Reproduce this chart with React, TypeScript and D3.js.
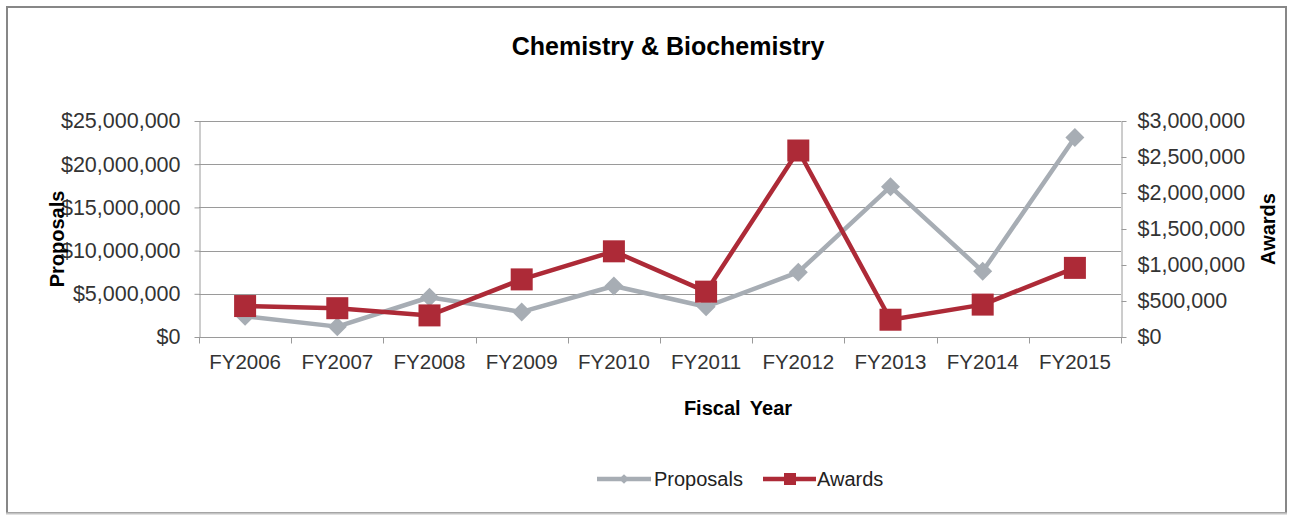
import React, { useRef, useEffect } from 'react';
import * as d3 from 'd3';

const years = ['FY2006', 'FY2007', 'FY2008', 'FY2009', 'FY2010', 'FY2011', 'FY2012', 'FY2013', 'FY2014', 'FY2015'];
const proposals = [2400000, 1200000, 4600000, 2900000, 5900000, 3500000, 7500000, 17400000, 7600000, 23100000];
const awards = [430000, 400000, 300000, 800000, 1190000, 630000, 2590000, 240000, 450000, 960000];
const leftTicks = [0, 5000000, 10000000, 15000000, 20000000, 25000000];
const rightTicks = [0, 500000, 1000000, 1500000, 2000000, 2500000, 3000000];

const GRAY = '#a7adb4';
const RED = '#ad2a37';
const FONT = '"Liberation Sans", Arial, sans-serif';

function App() {
  const ref = useRef<SVGSVGElement>(null);

  useEffect(() => {
    const svg = d3.select(ref.current);
    svg.selectAll('*').remove();

    const left = 199, right = 1121, top = 121, bottom = 337;
    const x = d3.scaleBand().domain(years).range([left, right]);
    const yL = d3.scaleLinear().domain([0, 25000000]).range([bottom, top]);
    const yR = d3.scaleLinear().domain([0, 3000000]).range([bottom, top]);
    const money = (v: number) => '$' + d3.format(',')(v);
    const cx = (d: string) => (x(d) as number) + x.bandwidth() / 2;

    // outer frame
    svg.append('rect').attr('x', 7).attr('y', 7).attr('width', 1279).attr('height', 506)
      .attr('fill', '#fff').attr('stroke', '#878787').attr('stroke-width', 2);
    svg.append('line').attr('x1', 6).attr('x2', 1287).attr('y1', 513.5).attr('y2', 513.5)
      .attr('stroke', '#c4c4c4').attr('stroke-width', 2);

    // title
    svg.append('text').attr('x', 668).attr('y', 55).attr('text-anchor', 'middle')
      .attr('font-family', FONT).attr('font-size', 25).attr('font-weight', 'bold').attr('fill', '#000')
      .text('Chemistry & Biochemistry');

    // gridlines
    svg.append('g').selectAll('line').data(leftTicks.slice(1)).enter().append('line')
      .attr('x1', left).attr('x2', right).attr('y1', (d) => Math.round(yL(d)) + 0.5).attr('y2', (d) => Math.round(yL(d)) + 0.5)
      .attr('stroke', '#9a9a9a').attr('stroke-width', 1);

    const styleAxis = (g: any) => {
      g.select('.domain').attr('stroke', '#9a9a9a');
      g.selectAll('.tick line').attr('stroke', '#9a9a9a');
      g.selectAll('.tick text').attr('fill', '#333').attr('font-size', 21.5).attr('font-family', FONT);
    };

    // left axis
    svg.append('g').attr('transform', `translate(${left + 0.5},0)`)
      .call(d3.axisLeft(yL).tickValues(leftTicks).tickFormat((d: any) => money(d)).tickSizeInner(5).tickSizeOuter(0).tickPadding(14))
      .call(styleAxis);

    // right axis
    svg.append('g').attr('transform', `translate(${right + 0.5},0)`)
      .call(d3.axisRight(yR).tickValues(rightTicks).tickFormat((d: any) => money(d)).tickSizeInner(5).tickSizeOuter(0).tickPadding(11))
      .call(styleAxis);

    // bottom axis: ticks at category boundaries
    const xg = svg.append('g').attr('transform', `translate(0,${bottom + 0.5})`);
    xg.append('line').attr('x1', left).attr('x2', right + 1).attr('stroke', '#9a9a9a');
    xg.selectAll('line.tk').data(d3.range(years.length + 1)).enter().append('line').attr('class', 'tk')
      .attr('x1', (i) => Math.round(left + i * x.bandwidth()) + 0.5).attr('x2', (i) => Math.round(left + i * x.bandwidth()) + 0.5)
      .attr('y1', 0).attr('y2', 6).attr('stroke', '#9a9a9a');
    xg.selectAll('text').data(years).enter().append('text')
      .attr('x', (d) => cx(d)).attr('y', 31).attr('text-anchor', 'middle')
      .attr('font-family', FONT).attr('font-size', 20.5).attr('fill', '#333').text((d) => d);

    // axis titles
    svg.append('text').attr('x', 738).attr('y', 415).attr('text-anchor', 'middle')
      .attr('font-family', FONT).attr('font-size', 20).attr('font-weight', 'bold').attr('fill', '#000')
      .attr('word-spacing', 4).text('Fiscal Year');
    svg.append('text').attr('transform', 'translate(64,239) rotate(-90)').attr('text-anchor', 'middle')
      .attr('font-family', FONT).attr('font-size', 20).attr('font-weight', 'bold').attr('fill', '#000').text('Proposals');
    svg.append('text').attr('transform', 'translate(1275,229) rotate(-90)').attr('text-anchor', 'middle')
      .attr('font-family', FONT).attr('font-size', 20).attr('font-weight', 'bold').attr('fill', '#000').text('Awards');

    // proposals series
    const lineL = d3.line<number>().x((_, i) => cx(years[i])).y((d) => yL(d));
    svg.append('path').datum(proposals).attr('d', lineL).attr('fill', 'none')
      .attr('stroke', GRAY).attr('stroke-width', 4.5).attr('stroke-linejoin', 'round');
    const diamond = d3.symbol().type(d3.symbolDiamond2).size(230);
    svg.append('g').selectAll('path').data(proposals).enter().append('path')
      .attr('d', diamond).attr('transform', (d, i) => `translate(${cx(years[i])},${yL(d)})`).attr('fill', GRAY);

    // awards series
    const lineR = d3.line<number>().x((_, i) => cx(years[i])).y((d) => yR(d));
    svg.append('path').datum(awards).attr('d', lineR).attr('fill', 'none')
      .attr('stroke', RED).attr('stroke-width', 4.5).attr('stroke-linejoin', 'round');
    svg.append('g').selectAll('rect').data(awards).enter().append('rect')
      .attr('x', (d, i) => cx(years[i]) - 11).attr('y', (d) => yR(d) - 11)
      .attr('width', 22).attr('height', 22).attr('fill', RED);

    // legend
    const lg = svg.append('g').attr('font-family', FONT).attr('font-size', 20).attr('fill', '#222');
    lg.append('line').attr('x1', 597).attr('x2', 651).attr('y1', 479).attr('y2', 479).attr('stroke', GRAY).attr('stroke-width', 4.5);
    lg.append('path').attr('d', d3.symbol().type(d3.symbolDiamond2).size(60)).attr('transform', 'translate(624,479)').attr('fill', GRAY);
    lg.append('text').attr('x', 654).attr('y', 486).text('Proposals');
    lg.append('line').attr('x1', 763).attr('x2', 816).attr('y1', 479).attr('y2', 479).attr('stroke', RED).attr('stroke-width', 4.5);
    lg.append('rect').attr('x', 784).attr('y', 473).attr('width', 12).attr('height', 12).attr('fill', RED);
    lg.append('text').attr('x', 817).attr('y', 486).text('Awards');
  }, []);

  return (
    <svg ref={ref} width={1291} height={515} style={{ position: 'absolute', left: 0, top: 0, background: '#fff' }} />
  );
}

export default App;
